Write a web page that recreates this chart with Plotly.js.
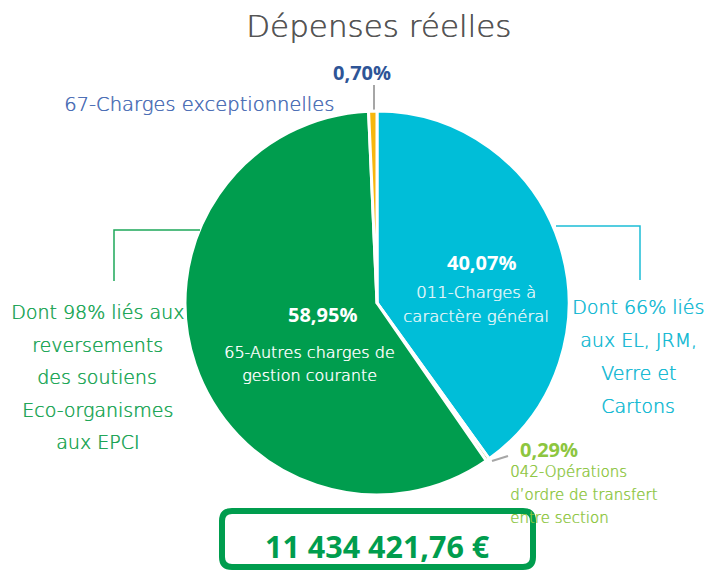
<!DOCTYPE html>
<html>
<head>
<meta charset="utf-8">
<script src="https://cdn.plot.ly/plotly-3.0.1.min.js"></script>
<style>html,body{margin:0;padding:0;background:#fff;}#chart{width:706px;height:571px;}</style>
</head>
<body>
<div id="chart"></div>
<script>
const labels = ["011-Charges à caractère général", "042-Opérations d'ordre de transfert entre section", "65-Autres charges de gestion courante", "67-Charges exceptionnelles"];
const values = [40.07, 0.29, 58.95, 0.70];
const percentLabels = ["40,07%", "0,29%", "58,95%", "0,70%"];
const colors = ["#00BED8", "#8DC63F", "#009D4E", "#F7B70E"];
const labelLines = [
  ["011-Charges à", "caractère général"],
  ["042-Opérations", "d’ordre de transfert", "entre section"],
  ["65-Autres charges de", "gestion courante"],
  ["67-Charges exceptionnelles"]
];
const titleText = "Dépenses réelles";
const totalText = "11 434 421,76 €";
const noteLeft = ["Dont 98% liés aux", "reversements", "des soutiens", "Eco-organismes", "aux EPCI"];
const noteRight = ["Dont 66% liés", "aux EL, JRM,", "Verre et", "Cartons"];

const W = 706, H = 571;
const cx = 377, cy = 303, r = 192;
const thin = "'DejaVu Sans', Lato, sans-serif";
const bold = "'Open Sans', sans-serif";

const pie = {
  type: "pie",
  labels: labels,
  values: values,
  sort: false,
  direction: "clockwise",
  rotation: 0,
  textinfo: "none",
  hoverinfo: "label+percent",
  marker: {colors: colors, line: {color: "#ffffff", width: 3}},
  domain: {x: [(cx - r) / W, (cx + r) / W], y: [1 - (cy + r) / H, 1 - (cy - r) / H]},
  showlegend: false
};

function ann(text, x, y, size, color, family, weight, extra, shadow) {
  const font = {size: size, color: color, family: family, weight: weight};
  if (shadow) font.shadow = "0.45px 0 0 " + color;
  return Object.assign({text: text, x: x, y: y, xref: "x", yref: "y", showarrow: false,
    font: font, xanchor: "center", yanchor: "middle"}, extra || {});
}
function lines(arr, x, y0, dy, size, color, extra) {
  return arr.map((t, i) => ann(t, x, y0 + i * dy, size, color, thin, 200, extra, true));
}

const annotations = [
  ann(titleText, 378, 26, 31, "#555555", thin, 200, null, true),
  ann(percentLabels[3], 362, 72, 20, "#2E5597", bold, 700),
  ...lines(labelLines[3], 336, 104, 0, 19.5, "#4A6DB5", {xanchor: "right"}),
  ann(percentLabels[0], 481, 262, 20, "#ffffff", bold, 700),
  ...lines(labelLines[0], 476, 292, 24, 16.5, "#E3F6FA"),
  ann(percentLabels[2], 322, 314, 20, "#ffffff", bold, 700),
  ...lines(labelLines[2], 309, 352, 23, 16, "#ffffff"),
  ann(percentLabels[1], 518, 449, 20, "#8DC63F", bold, 700, {xanchor: "left"}),
  ...lines(labelLines[1], 508, 472, 23, 15, "#8DC63F", {xanchor: "left"}),
  ...lines(noteLeft, 97, 312, 32.5, 19, "#1AA555"),
  ...lines(noteRight, 638, 307, 33, 19, "#14B9D3"),
  ann(totalText, 377, 546, 30.5, "#009D4E", bold, 700)
];

const shapes = [
  {type: "line", xref: "x", yref: "y", x0: 374, y0: 85, x1: 374, y1: 111, line: {color: "#A6A6A6", width: 2}, layer: "below"},
  {type: "line", xref: "x", yref: "y", x0: 492, y0: 461, x1: 508, y1: 456, line: {color: "#A6A6A6", width: 2}},
  {type: "path", xref: "x", yref: "y", path: "M 114 281 L 114 230 L 200 230", line: {color: "#1EA85A", width: 1.5}},
  {type: "path", xref: "x", yref: "y", path: "M 556 226 L 640 226 L 640 280", line: {color: "#1DBDD6", width: 1.5}},
  {type: "path", xref: "x", yref: "y",
   path: "M 232 511 L 523 511 Q 533 511 533 521 L 533 557 Q 533 567 523 567 L 232 567 Q 222 567 222 557 L 222 521 Q 222 511 232 511 Z",
   line: {color: "#009D4E", width: 6}, fillcolor: "rgba(0,0,0,0)"}
];

const layout = {
  width: W, height: H,
  margin: {l: 0, r: 0, t: 0, b: 0},
  paper_bgcolor: "#ffffff", plot_bgcolor: "rgba(0,0,0,0)",
  xaxis: {range: [0, W], visible: false, fixedrange: true},
  yaxis: {range: [H, 0], visible: false, fixedrange: true},
  annotations: annotations,
  shapes: shapes,
  showlegend: false
};

const dummy = {type: "scatter", x: [0], y: [0], mode: "markers", marker: {opacity: 0}, hoverinfo: "skip", showlegend: false};

Plotly.newPlot("chart", [dummy, pie], layout, {displayModeBar: false, staticPlot: true});
</script>
</body>
</html>
